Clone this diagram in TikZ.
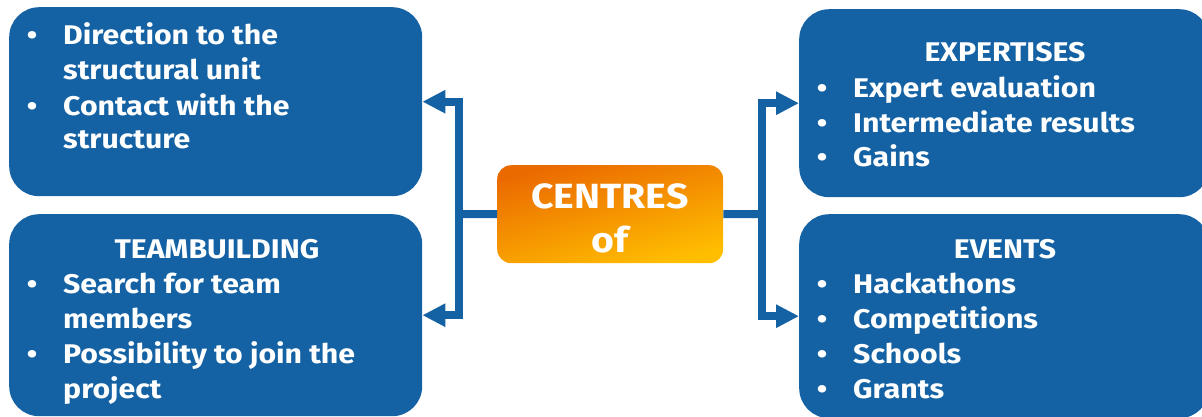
\documentclass[tikz,border=0pt]{standalone}
\usepackage{fontspec}
\setmainfont{Fira Sans}[FakeStretch=1.12]
\usetikzlibrary{arrows.meta}
\definecolor{boxblue}{HTML}{1462A3}
\definecolor{orangeA}{HTML}{EB6A00}
\definecolor{orangeB}{HTML}{FFBE00}
\begin{document}
\begin{tikzpicture}[x=1pt,y=-1pt,
  bluebox/.style={fill=boxblue, draw=none, rounded corners=30pt, inner sep=0pt, anchor=north west},
  centrebox/.style={draw=none, rounded corners=14pt, inner sep=0pt, anchor=north west,
    top color=orangeA, bottom color=orangeB, shading angle=15},
  txt/.style={text=white, font=\fontsize{27}{35}\selectfont\bfseries, inner sep=0pt, anchor=base west},
  ttl/.style={text=white, font=\fontsize{27}{35}\selectfont\bfseries, inner sep=0pt, anchor=base},
  bul/.style={text=white, font=\fontsize{27}{35}\selectfont\bfseries, inner sep=0pt, anchor=base},
  ctxt/.style={text=white, font=\fontsize{35}{44}\selectfont\bfseries, inner sep=0pt, anchor=base},
  conn/.style={draw=boxblue, line width=8pt, line join=miter},
  arr/.style={conn, -{Triangle[length=23pt,width=22pt]}}
]
\useasboundingbox (0,0) rectangle (1202,416);
\fill[white] (0,0) rectangle (1202,416);

% boxes
\node[bluebox, minimum width=413pt, minimum height=189pt] (tl) at (9,7) {};
\node[bluebox, minimum width=413pt, minimum height=202pt] (bl) at (9,214) {};
\node[bluebox, minimum width=410pt, minimum height=188pt] (tr) at (799,9) {};
\node[bluebox, minimum width=410pt, minimum height=204pt] (br) at (799,214) {};
\node[centrebox, minimum width=226pt, minimum height=98pt] (c) at (497,165) {};

% centre text
\node[ctxt] (c1) at (610,208) {CENTRES};
\node[ctxt] (c2) at (610,252) {of};

% connectors
\coordinate (jl) at (459,214);
\coordinate (jr) at (762,214);
\draw[conn] (c.west) -- (jl);
\draw[conn] (c.east) -- (jr);
\draw[arr] (jl) |- (tl.east);
\draw[arr] (jl) |- (bl.east);
\draw[arr] (jr) |- (tr.west);
\draw[arr] (jr) |- (br.west);

% top-left text
\node[bul] (tlb1) at (32,44) {•};
\node[txt] (tlt1) at (63,44) {Direction to the};
\node[txt] (tlt2) at (63,79) {structural unit};
\node[bul] (tlb2) at (32,115) {•};
\node[txt] (tlt3) at (63,115) {Contact with the};
\node[txt] (tlt4) at (63,148) {structure};

% bottom-left text
\node[ttl] (blh) at (217,258) {TEAMBUILDING};
\node[bul] (blb1) at (32,293) {•};
\node[txt] (blt1) at (63,293) {Search for team};
\node[txt] (blt2) at (63,328) {members};
\node[bul] (blb2) at (32,363) {•};
\node[txt] (blt3) at (63,363) {Possibility to join the};
\node[txt] (blt4) at (63,398) {project};

% top-right text
\node[ttl] (trh) at (1005,61) {EXPERTISES};
\node[bul] (trb1) at (822,97) {•};
\node[txt] (trt1) at (853,97) {Expert evaluation};
\node[bul] (trb2) at (822,132) {•};
\node[txt] (trt2) at (853,132) {Intermediate results};
\node[bul] (trb3) at (822,166) {•};
\node[txt] (trt3) at (853,166) {Gains};

% bottom-right text
\node[ttl] (brh) at (1005,258) {EVENTS};
\node[bul] (brb1) at (822,293) {•};
\node[txt] (brt1) at (853,293) {Hackathons};
\node[bul] (brb2) at (822,328) {•};
\node[txt] (brt2) at (853,328) {Competitions};
\node[bul] (brb3) at (822,363) {•};
\node[txt] (brt3) at (853,363) {Schools};
\node[bul] (brb4) at (822,398) {•};
\node[txt] (brt4) at (853,398) {Grants};
\end{tikzpicture}
\end{document}
